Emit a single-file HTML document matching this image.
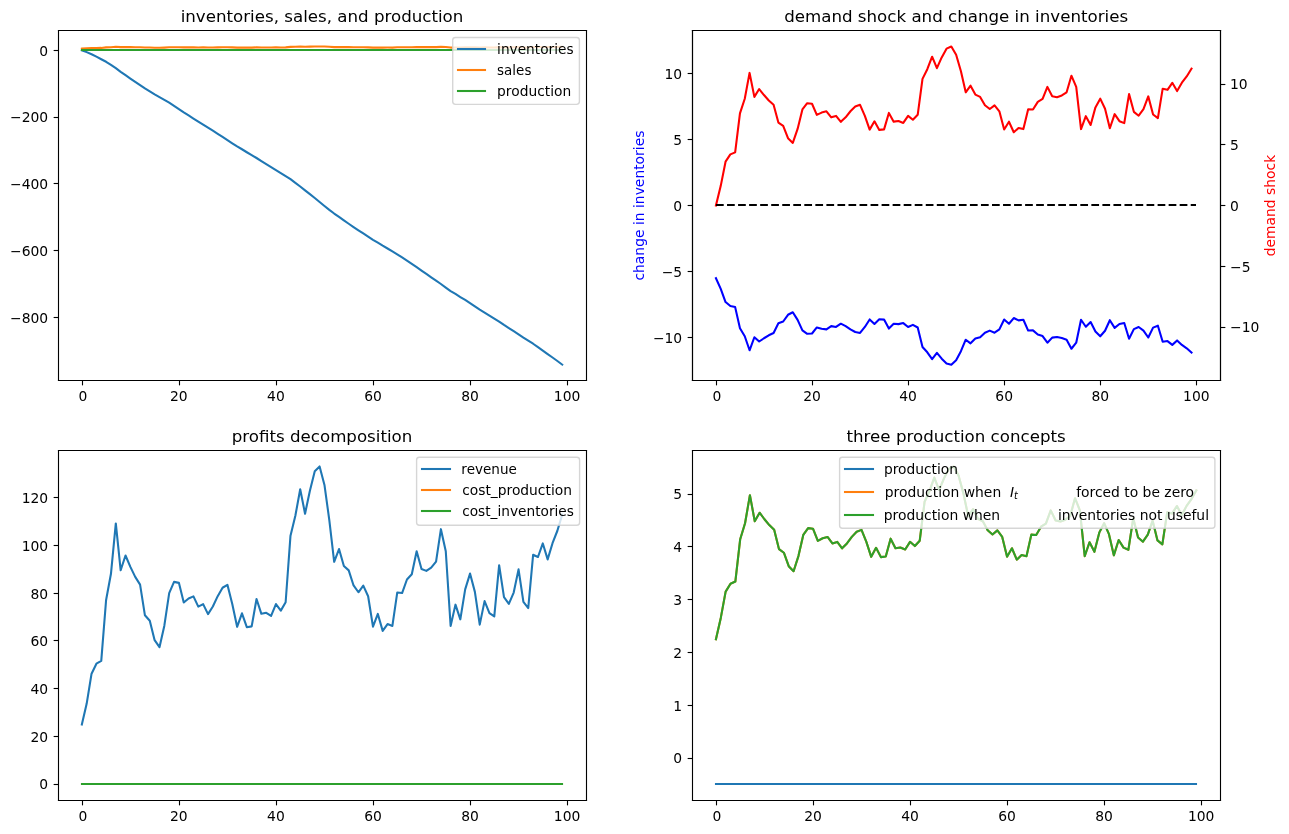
<!DOCTYPE html>
<html lang="en">
<head>
<meta charset="utf-8">
<title>Inventories, sales, and production</title>
<style>
html,body{margin:0;padding:0;background:#fff;}
body{width:1289px;height:834px;overflow:hidden;}
svg{display:block;font-family:"DejaVu Sans","Liberation Sans",sans-serif;}
</style>
</head>
<body>
<svg width="1289" height="834" viewBox="0 0 1289 834">
<g stroke-linejoin="round" stroke-linecap="butt" fill="#000">
<path d="M58 380L586 380L586 30L58 30Z" fill="#ffffff"/>
<path d="M82.5 380.5L82.5 385.36" stroke="#000000" stroke-width="1.11" fill="none"/>
<text x="82.85" y="400.83" font-size="13.89" text-anchor="middle">0</text>
<path d="M179.5 380.5L179.5 385.36" stroke="#000000" stroke-width="1.11" fill="none"/>
<text x="178.89" y="400.83" font-size="13.89" text-anchor="middle">20</text>
<path d="M276.5 380.5L276.5 385.36" stroke="#000000" stroke-width="1.11" fill="none"/>
<text x="275.94" y="400.83" font-size="13.89" text-anchor="middle">40</text>
<path d="M373.5 380.5L373.5 385.36" stroke="#000000" stroke-width="1.11" fill="none"/>
<text x="372.98" y="400.83" font-size="13.89" text-anchor="middle">60</text>
<path d="M470.5 380.5L470.5 385.36" stroke="#000000" stroke-width="1.11" fill="none"/>
<text x="470.03" y="400.83" font-size="13.89" text-anchor="middle">80</text>
<path d="M567.5 380.5L567.5 385.36" stroke="#000000" stroke-width="1.11" fill="none"/>
<text x="567.07" y="400.83" font-size="13.89" text-anchor="middle">100</text>
<path d="M58.5 317.5L53.64 317.5" stroke="#000000" stroke-width="1.11" fill="none"/>
<text x="48.11" y="322.51" font-size="13.89" text-anchor="end">−800</text>
<path d="M58.5 250.5L53.64 250.5" stroke="#000000" stroke-width="1.11" fill="none"/>
<text x="48.11" y="255.78" font-size="13.89" text-anchor="end">−600</text>
<path d="M58.5 183.5L53.64 183.5" stroke="#000000" stroke-width="1.11" fill="none"/>
<text x="48.11" y="189.05" font-size="13.89" text-anchor="end">−400</text>
<path d="M58.5 117.5L53.64 117.5" stroke="#000000" stroke-width="1.11" fill="none"/>
<text x="48.11" y="122.32" font-size="13.89" text-anchor="end">−200</text>
<path d="M58.5 50.5L53.64 50.5" stroke="#000000" stroke-width="1.11" fill="none"/>
<text x="48.11" y="55.59" font-size="13.89" text-anchor="end">0</text>
<path d="M81.85 50.31L86.7 52.15L91.55 54.25L96.41 56.69L101.26 59.22L106.11 61.79L110.96 64.89L115.81 68.19L120.67 71.84L125.52 75.17L130.37 78.6L135.22 81.95L140.08 85.23L144.93 88.45L149.78 91.42L154.63 94.35L159.48 97.11L164.34 99.81L169.19 102.69L174.04 105.85L178.89 109.08L183.75 112.32L188.6 115.4L193.45 118.51L198.3 121.63L203.15 124.68L208.01 127.74L212.86 130.73L217.71 133.77L222.56 136.9L227.42 140.1L232.27 143.31L237.12 146.38L241.97 149.26L246.82 152.25L251.68 155.12L256.53 158L261.38 161.11L266.23 164.09L271.09 167.09L275.94 170.06L280.79 173.12L285.64 176.13L290.49 179.21L295.35 182.79L300.2 186.49L305.05 190.37L309.9 194.09L314.76 197.96L319.61 201.95L324.46 205.96L329.31 209.87L334.17 213.54L339.02 216.93L343.87 220.41L348.72 223.77L353.57 227.1L358.43 230.31L363.28 233.47L368.13 236.68L372.98 239.81L377.84 242.68L382.69 245.67L387.54 248.51L392.39 251.41L397.24 254.29L402.1 257.45L406.95 260.6L411.8 263.86L416.65 267.16L421.51 270.62L426.36 273.96L431.21 277.28L436.06 280.63L440.91 284.01L445.77 287.63L450.62 291.09L455.47 293.98L460.32 297.04L465.18 299.98L470.03 303.16L474.88 306.46L479.73 309.63L484.58 312.52L489.44 315.61L494.29 318.6L499.14 321.57L503.99 324.93L508.85 328.05L513.7 331.12L518.55 334.28L523.4 337.61L528.25 340.7L533.11 343.73L537.96 347.17L542.81 350.59L547.66 354.11L552.52 357.51L557.37 361.03L562.22 364.64" fill="none" stroke="#1f77b4" stroke-width="2.08" stroke-linecap="square"/>
<path d="M81.85 48.64L86.7 48.37L91.55 48.04L96.41 47.94L101.26 47.91L106.11 47.38L110.96 47.18L115.81 46.82L120.67 47.15L125.52 47.04L130.37 47.13L135.22 47.2L140.08 47.26L144.93 47.5L149.78 47.55L154.63 47.72L159.48 47.78L164.34 47.59L169.19 47.32L174.04 47.24L178.89 47.25L183.75 47.4L188.6 47.37L193.45 47.35L198.3 47.43L203.15 47.41L208.01 47.49L212.86 47.43L217.71 47.35L222.56 47.28L227.42 47.26L232.27 47.41L237.12 47.6L241.97 47.49L246.82 47.6L251.68 47.6L256.53 47.37L261.38 47.49L266.23 47.48L271.09 47.51L275.94 47.41L280.79 47.46L285.64 47.4L290.49 46.9L295.35 46.77L300.2 46.6L305.05 46.76L309.9 46.61L314.76 46.49L319.61 46.46L324.46 46.57L329.31 46.8L334.17 47.09L339.02 47L343.87 47.12L348.72 47.15L353.57 47.26L358.43 47.32L363.28 47.27L368.13 47.35L372.98 47.6L377.84 47.49L382.69 47.64L387.54 47.58L392.39 47.59L397.24 47.32L402.1 47.32L406.95 47.22L411.8 47.18L416.65 47.01L421.51 47.14L426.36 47.16L431.21 47.13L436.06 47.09L440.91 46.86L445.77 47.01L450.62 47.59L455.47 47.42L460.32 47.54L465.18 47.29L470.03 47.18L474.88 47.31L479.73 47.58L484.58 47.39L489.44 47.48L494.29 47.51L499.14 47.11L503.99 47.36L508.85 47.41L513.7 47.32L518.55 47.14L523.4 47.39L528.25 47.44L533.11 47.04L537.96 47.05L542.81 46.96L547.66 47.07L552.52 46.96L557.37 46.87L562.22 46.76" fill="none" stroke="#ff7f0e" stroke-width="2.08" stroke-linecap="square"/>
<path d="M82 50L562 50" fill="none" stroke="#2ca02c" stroke-width="2.08" stroke-linecap="square"/>
<path d="M58.5 380.5L58.5 30.5" fill="none" stroke="#000000" stroke-width="1.11" stroke-linecap="square" stroke-linejoin="miter"/>
<path d="M586.5 380.5L586.5 30.5" fill="none" stroke="#000000" stroke-width="1.11" stroke-linecap="square" stroke-linejoin="miter"/>
<path d="M58.5 380.5L586.5 380.5" fill="none" stroke="#000000" stroke-width="1.11" stroke-linecap="square" stroke-linejoin="miter"/>
<path d="M58.5 30.5L586.5 30.5" fill="none" stroke="#000000" stroke-width="1.11" stroke-linecap="square" stroke-linejoin="miter"/>
<text x="322.03" y="22.22" font-size="16.67" text-anchor="middle">inventories, sales, and production</text>
<rect x="452.7" y="37.5" width="126.7" height="66.9" rx="2.78" fill="#ffffff" fill-opacity="0.8" stroke="#cccccc" stroke-opacity="0.8" stroke-width="1.39"/>
<path d="M458 49L485 49" fill="none" stroke="#1f77b4" stroke-width="2.08" stroke-linecap="square"/>
<text x="497.12" y="53.86" font-size="13.89" textLength="76.42" lengthAdjust="spacingAndGlyphs">inventories</text>
<path d="M458 70L485 70" fill="none" stroke="#ff7f0e" stroke-width="2.08" stroke-linecap="square"/>
<text x="497.12" y="74.61" font-size="13.89" textLength="34.29" lengthAdjust="spacingAndGlyphs">sales</text>
<path d="M458 91L485 91" fill="none" stroke="#2ca02c" stroke-width="2.08" stroke-linecap="square"/>
<text x="497.12" y="95.51" font-size="13.89" textLength="74.08" lengthAdjust="spacingAndGlyphs">production</text>
<path d="M692 380L1220 380L1220 30L692 30Z" fill="#ffffff"/>
<path d="M716.5 380.5L716.5 385.36" stroke="#000000" stroke-width="1.11" fill="none"/>
<text x="716.94" y="400.83" font-size="13.89" text-anchor="middle">0</text>
<path d="M812.5 380.5L812.5 385.36" stroke="#000000" stroke-width="1.11" fill="none"/>
<text x="812.01" y="400.83" font-size="13.89" text-anchor="middle">20</text>
<path d="M908.5 380.5L908.5 385.36" stroke="#000000" stroke-width="1.11" fill="none"/>
<text x="908.09" y="400.83" font-size="13.89" text-anchor="middle">40</text>
<path d="M1004.5 380.5L1004.5 385.36" stroke="#000000" stroke-width="1.11" fill="none"/>
<text x="1004.16" y="400.83" font-size="13.89" text-anchor="middle">60</text>
<path d="M1100.5 380.5L1100.5 385.36" stroke="#000000" stroke-width="1.11" fill="none"/>
<text x="1100.24" y="400.83" font-size="13.89" text-anchor="middle">80</text>
<path d="M1196.5 380.5L1196.5 385.36" stroke="#000000" stroke-width="1.11" fill="none"/>
<text x="1196.31" y="400.83" font-size="13.89" text-anchor="middle">100</text>
<path d="M692.5 337.5L687.64 337.5" stroke="#000000" stroke-width="1.11" fill="none"/>
<text x="682.2" y="342.94" font-size="13.89" text-anchor="end">−10</text>
<path d="M692.5 271.5L687.64 271.5" stroke="#000000" stroke-width="1.11" fill="none"/>
<text x="682.2" y="276.89" font-size="13.89" text-anchor="end">−5</text>
<path d="M692.5 205.5L687.64 205.5" stroke="#000000" stroke-width="1.11" fill="none"/>
<text x="682.2" y="210.83" font-size="13.89" text-anchor="end">0</text>
<path d="M692.5 139.5L687.64 139.5" stroke="#000000" stroke-width="1.11" fill="none"/>
<text x="682.2" y="144.77" font-size="13.89" text-anchor="end">5</text>
<path d="M692.5 73.5L687.64 73.5" stroke="#000000" stroke-width="1.11" fill="none"/>
<text x="682.2" y="78.71" font-size="13.89" text-anchor="end">10</text>
<text x="644.44" y="205.55" font-size="13.89" text-anchor="middle" fill="#0000ff" transform="rotate(-90 644.44 205.55)">change in inventories</text>
<path d="M715.94 278.21L720.74 288.91L725.55 302.05L730.35 306.03L735.15 307.11L739.96 328.25L744.76 336.23L749.57 350.28L754.37 337.25L759.17 341.51L763.98 338.24L768.78 335.31L773.58 333L778.39 323.3L783.19 321.51L788 314.79L792.8 312.26L797.6 319.83L802.41 330.41L807.21 333.82L812.01 333.52L816.82 327.46L821.62 328.73L826.43 329.38L831.23 326.13L836.03 326.92L840.84 323.69L845.64 326.16L850.44 329.44L855.25 332.03L860.05 332.94L864.85 326.96L869.66 319.45L874.46 323.96L879.27 319.32L884.07 319.59L888.87 328.54L893.68 323.79L898.48 324.12L903.28 323.1L908.09 326.96L912.89 324.84L917.7 327.53L922.5 347.01L927.3 352.3L932.11 359.07L936.91 352.85L941.71 358.68L946.52 363.46L951.32 364.64L956.13 360.14L960.93 351.18L965.73 339.71L970.54 343.33L975.34 338.5L980.14 337.23L984.95 332.73L989.75 330.65L994.56 332.67L999.36 329.41L1004.16 319.52L1008.97 323.76L1013.77 318.05L1018.57 320.37L1023.38 319.76L1028.18 330.56L1032.98 330.41L1037.79 334.54L1042.59 336.11L1047.4 342.69L1052.2 337.6L1057 337.08L1061.81 338.04L1066.61 339.74L1071.41 348.76L1076.22 342.72L1081.02 319.76L1085.83 326.77L1090.63 321.98L1095.43 331.54L1100.24 336.29L1105.04 330.78L1109.84 320.2L1114.65 327.88L1119.45 324.05L1124.26 322.97L1129.06 338.74L1133.86 329.13L1138.67 327.02L1143.47 330.56L1148.27 337.52L1153.08 327.65L1157.88 325.68L1162.69 341.7L1167.49 341.08L1172.29 344.88L1177.1 340.4L1181.9 344.94L1186.7 348.33L1191.51 352.61" fill="none" stroke="#0000ff" stroke-width="2.08" stroke-linecap="square"/>
<path d="M692.5 380.5L692.5 30.5" fill="none" stroke="#000000" stroke-width="1.11" stroke-linecap="square" stroke-linejoin="miter"/>
<path d="M1220.5 380.5L1220.5 30.5" fill="none" stroke="#000000" stroke-width="1.11" stroke-linecap="square" stroke-linejoin="miter"/>
<path d="M692.5 380.5L1220.5 380.5" fill="none" stroke="#000000" stroke-width="1.11" stroke-linecap="square" stroke-linejoin="miter"/>
<path d="M692.5 30.5L1220.5 30.5" fill="none" stroke="#000000" stroke-width="1.11" stroke-linecap="square" stroke-linejoin="miter"/>
<text x="956.13" y="22.22" font-size="16.67" text-anchor="middle">demand shock and change in inventories</text>
<path d="M58 800L586 800L586 450L58 450Z" fill="#ffffff"/>
<path d="M82.5 800.5L82.5 805.36" stroke="#000000" stroke-width="1.11" fill="none"/>
<text x="82.85" y="820.83" font-size="13.89" text-anchor="middle">0</text>
<path d="M179.5 800.5L179.5 805.36" stroke="#000000" stroke-width="1.11" fill="none"/>
<text x="178.89" y="820.83" font-size="13.89" text-anchor="middle">20</text>
<path d="M276.5 800.5L276.5 805.36" stroke="#000000" stroke-width="1.11" fill="none"/>
<text x="275.94" y="820.83" font-size="13.89" text-anchor="middle">40</text>
<path d="M373.5 800.5L373.5 805.36" stroke="#000000" stroke-width="1.11" fill="none"/>
<text x="372.98" y="820.83" font-size="13.89" text-anchor="middle">60</text>
<path d="M470.5 800.5L470.5 805.36" stroke="#000000" stroke-width="1.11" fill="none"/>
<text x="470.03" y="820.83" font-size="13.89" text-anchor="middle">80</text>
<path d="M567.5 800.5L567.5 805.36" stroke="#000000" stroke-width="1.11" fill="none"/>
<text x="567.07" y="820.83" font-size="13.89" text-anchor="middle">100</text>
<path d="M58.5 784.5L53.64 784.5" stroke="#000000" stroke-width="1.11" fill="none"/>
<text x="48.11" y="789.32" font-size="13.89" text-anchor="end">0</text>
<path d="M58.5 736.5L53.64 736.5" stroke="#000000" stroke-width="1.11" fill="none"/>
<text x="48.11" y="741.64" font-size="13.89" text-anchor="end">20</text>
<path d="M58.5 688.5L53.64 688.5" stroke="#000000" stroke-width="1.11" fill="none"/>
<text x="48.11" y="693.96" font-size="13.89" text-anchor="end">40</text>
<path d="M58.5 640.5L53.64 640.5" stroke="#000000" stroke-width="1.11" fill="none"/>
<text x="48.11" y="646.27" font-size="13.89" text-anchor="end">60</text>
<path d="M58.5 593.5L53.64 593.5" stroke="#000000" stroke-width="1.11" fill="none"/>
<text x="48.11" y="598.59" font-size="13.89" text-anchor="end">80</text>
<path d="M58.5 545.5L53.64 545.5" stroke="#000000" stroke-width="1.11" fill="none"/>
<text x="48.11" y="550.91" font-size="13.89" text-anchor="end">100</text>
<path d="M58.5 497.5L53.64 497.5" stroke="#000000" stroke-width="1.11" fill="none"/>
<text x="48.11" y="503.22" font-size="13.89" text-anchor="end">120</text>
<path d="M81.85 724.44L86.7 703.58L91.55 673.67L96.41 663.69L101.26 660.89L106.11 599.94L110.96 573.79L115.81 523.47L120.67 570.29L125.52 555.51L130.37 566.9L135.22 576.88L140.08 584.57L144.93 615.32L149.78 620.71L154.63 640.18L159.48 647.17L164.34 625.7L169.19 593.05L174.04 581.87L178.89 582.87L183.75 602.44L188.6 598.45L193.45 596.35L198.3 606.63L203.15 604.14L208.01 614.12L212.86 606.53L217.71 596.15L222.56 587.76L227.42 584.77L232.27 604.04L237.12 626.8L241.97 613.32L246.82 627.2L251.68 626.4L256.53 599.04L261.38 613.82L266.23 612.82L271.09 615.92L275.94 604.04L280.79 610.63L285.64 602.24L290.49 535.65L295.35 515.78L300.2 489.22L305.05 513.68L309.9 490.82L314.76 471.35L319.61 466.46L324.46 484.93L329.31 520.07L334.17 561.8L339.02 549.03L343.87 566L348.72 570.39L353.57 585.47L358.43 592.26L363.28 585.67L368.13 596.25L372.98 626.6L377.84 613.92L382.69 630.89L387.54 624.1L392.39 625.9L397.24 592.55L402.1 593.05L406.95 579.48L411.8 574.18L416.65 551.32L421.51 569.09L426.36 570.89L431.21 567.6L436.06 561.7L440.91 529.16L445.77 551.22L450.62 625.9L455.47 604.64L460.32 619.31L465.18 589.36L470.03 573.59L474.88 591.86L479.73 624.6L484.58 601.14L489.44 613.02L494.29 616.32L499.14 565.2L503.99 597.15L508.85 603.84L513.7 592.55L518.55 569.39L523.4 601.84L528.25 608.03L533.11 554.82L537.96 557.01L542.81 543.43L547.66 559.41L552.52 543.23L557.37 530.75L562.22 514.58" fill="none" stroke="#1f77b4" stroke-width="2.08" stroke-linecap="square"/>
<path d="M82 784L562 784" fill="none" stroke="#ff7f0e" stroke-width="2.08" stroke-linecap="square"/>
<path d="M82 784L562 784" fill="none" stroke="#2ca02c" stroke-width="2.08" stroke-linecap="square"/>
<path d="M58.5 800.5L58.5 450.5" fill="none" stroke="#000000" stroke-width="1.11" stroke-linecap="square" stroke-linejoin="miter"/>
<path d="M586.5 800.5L586.5 450.5" fill="none" stroke="#000000" stroke-width="1.11" stroke-linecap="square" stroke-linejoin="miter"/>
<path d="M58.5 800.5L586.5 800.5" fill="none" stroke="#000000" stroke-width="1.11" stroke-linecap="square" stroke-linejoin="miter"/>
<path d="M58.5 450.5L586.5 450.5" fill="none" stroke="#000000" stroke-width="1.11" stroke-linecap="square" stroke-linejoin="miter"/>
<text x="322.03" y="442.22" font-size="16.67" text-anchor="middle">profits decomposition</text>
<rect x="416.6" y="457.3" width="163" height="68" rx="2.78" fill="#ffffff" fill-opacity="0.8" stroke="#cccccc" stroke-opacity="0.8" stroke-width="1.39"/>
<path d="M422 469L450 469" fill="none" stroke="#1f77b4" stroke-width="2.08" stroke-linecap="square"/>
<text x="461.36" y="474.11" font-size="13.89" textLength="55.47" lengthAdjust="spacingAndGlyphs">revenue</text>
<path d="M422 490L450 490" fill="none" stroke="#ff7f0e" stroke-width="2.08" stroke-linecap="square"/>
<text x="462.16" y="495.01" font-size="13.89" textLength="109.79" lengthAdjust="spacingAndGlyphs">cost_production</text>
<path d="M422 511L450 511" fill="none" stroke="#2ca02c" stroke-width="2.08" stroke-linecap="square"/>
<text x="462.16" y="516.01" font-size="13.89" textLength="111.78" lengthAdjust="spacingAndGlyphs">cost_inventories</text>
<path d="M692 800L1220 800L1220 450L692 450Z" fill="#ffffff"/>
<path d="M716.5 800.5L716.5 805.36" stroke="#000000" stroke-width="1.11" fill="none"/>
<text x="716.94" y="820.83" font-size="13.89" text-anchor="middle">0</text>
<path d="M813.5 800.5L813.5 805.36" stroke="#000000" stroke-width="1.11" fill="none"/>
<text x="812.98" y="820.83" font-size="13.89" text-anchor="middle">20</text>
<path d="M910.5 800.5L910.5 805.36" stroke="#000000" stroke-width="1.11" fill="none"/>
<text x="910.03" y="820.83" font-size="13.89" text-anchor="middle">40</text>
<path d="M1007.5 800.5L1007.5 805.36" stroke="#000000" stroke-width="1.11" fill="none"/>
<text x="1007.07" y="820.83" font-size="13.89" text-anchor="middle">60</text>
<path d="M1104.5 800.5L1104.5 805.36" stroke="#000000" stroke-width="1.11" fill="none"/>
<text x="1104.12" y="820.83" font-size="13.89" text-anchor="middle">80</text>
<path d="M1201.5 800.5L1201.5 805.36" stroke="#000000" stroke-width="1.11" fill="none"/>
<text x="1201.16" y="820.83" font-size="13.89" text-anchor="middle">100</text>
<path d="M692.5 758.5L687.64 758.5" stroke="#000000" stroke-width="1.11" fill="none"/>
<text x="682.2" y="763.49" font-size="13.89" text-anchor="end">0</text>
<path d="M692.5 705.5L687.64 705.5" stroke="#000000" stroke-width="1.11" fill="none"/>
<text x="682.2" y="710.65" font-size="13.89" text-anchor="end">1</text>
<path d="M692.5 652.5L687.64 652.5" stroke="#000000" stroke-width="1.11" fill="none"/>
<text x="682.2" y="657.8" font-size="13.89" text-anchor="end">2</text>
<path d="M692.5 599.5L687.64 599.5" stroke="#000000" stroke-width="1.11" fill="none"/>
<text x="682.2" y="604.95" font-size="13.89" text-anchor="end">3</text>
<path d="M692.5 546.5L687.64 546.5" stroke="#000000" stroke-width="1.11" fill="none"/>
<text x="682.2" y="552.1" font-size="13.89" text-anchor="end">4</text>
<path d="M692.5 494.5L687.64 494.5" stroke="#000000" stroke-width="1.11" fill="none"/>
<text x="682.2" y="499.26" font-size="13.89" text-anchor="end">5</text>
<path d="M716 784L1196 784" fill="none" stroke="#1f77b4" stroke-width="2.08" stroke-linecap="square"/>
<path d="M715.94 639.31L720.79 617.92L725.64 591.64L730.5 583.69L735.35 581.52L740.2 539.23L745.05 523.28L749.91 495.18L754.76 521.23L759.61 512.73L764.46 519.25L769.31 525.12L774.17 529.73L779.02 549.14L783.87 552.72L788.72 566.17L793.58 571.22L798.43 556.09L803.28 534.93L808.13 528.1L812.98 528.71L817.84 540.81L822.69 538.29L827.54 536.98L832.39 543.49L837.25 541.89L842.1 548.35L846.95 543.43L851.8 536.85L856.65 531.67L861.51 529.85L866.36 541.83L871.21 556.84L876.06 547.83L880.92 557.11L885.77 556.56L890.62 538.67L895.47 548.16L900.32 547.5L905.18 549.53L910.03 541.83L914.88 546.07L919.73 540.69L924.59 501.72L929.44 491.14L934.29 477.59L939.14 490.04L943.99 478.39L948.85 468.82L953.7 466.46L958.55 475.46L963.4 493.39L968.26 516.31L973.11 509.08L977.96 518.73L982.81 521.29L987.67 530.28L992.52 534.43L997.37 530.4L1002.22 536.91L1007.07 556.7L1011.93 548.22L1016.78 559.65L1021.63 555L1026.48 556.22L1031.34 534.62L1036.19 534.93L1041.04 526.67L1045.89 523.52L1050.74 510.37L1055.6 520.53L1060.45 521.58L1065.3 519.66L1070.15 516.26L1075.01 498.22L1079.86 510.31L1084.71 556.22L1089.56 542.21L1094.41 551.79L1099.27 532.65L1104.12 523.17L1108.97 534.19L1113.82 555.34L1118.68 539.99L1123.53 547.63L1128.38 549.8L1133.23 518.27L1138.08 537.48L1142.94 541.7L1147.79 534.62L1152.64 520.71L1157.49 540.43L1162.35 544.39L1167.2 512.33L1172.05 513.58L1176.9 505.98L1181.75 514.94L1186.61 505.87L1191.46 499.07L1196.31 490.51" fill="none" stroke="#ff7f0e" stroke-width="2.08" stroke-linecap="square"/>
<path d="M715.94 639.31L720.79 617.92L725.64 591.64L730.5 583.69L735.35 581.52L740.2 539.23L745.05 523.28L749.91 495.18L754.76 521.23L759.61 512.73L764.46 519.25L769.31 525.12L774.17 529.73L779.02 549.14L783.87 552.72L788.72 566.17L793.58 571.22L798.43 556.09L803.28 534.93L808.13 528.1L812.98 528.71L817.84 540.81L822.69 538.29L827.54 536.98L832.39 543.49L837.25 541.89L842.1 548.35L846.95 543.43L851.8 536.85L856.65 531.67L861.51 529.85L866.36 541.83L871.21 556.84L876.06 547.83L880.92 557.11L885.77 556.56L890.62 538.67L895.47 548.16L900.32 547.5L905.18 549.53L910.03 541.83L914.88 546.07L919.73 540.69L924.59 501.72L929.44 491.14L934.29 477.59L939.14 490.04L943.99 478.39L948.85 468.82L953.7 466.46L958.55 475.46L963.4 493.39L968.26 516.31L973.11 509.08L977.96 518.73L982.81 521.29L987.67 530.28L992.52 534.43L997.37 530.4L1002.22 536.91L1007.07 556.7L1011.93 548.22L1016.78 559.65L1021.63 555L1026.48 556.22L1031.34 534.62L1036.19 534.93L1041.04 526.67L1045.89 523.52L1050.74 510.37L1055.6 520.53L1060.45 521.58L1065.3 519.66L1070.15 516.26L1075.01 498.22L1079.86 510.31L1084.71 556.22L1089.56 542.21L1094.41 551.79L1099.27 532.65L1104.12 523.17L1108.97 534.19L1113.82 555.34L1118.68 539.99L1123.53 547.63L1128.38 549.8L1133.23 518.27L1138.08 537.48L1142.94 541.7L1147.79 534.62L1152.64 520.71L1157.49 540.43L1162.35 544.39L1167.2 512.33L1172.05 513.58L1176.9 505.98L1181.75 514.94L1186.61 505.87L1191.46 499.07L1196.31 490.51" fill="none" stroke="#2ca02c" stroke-width="2.08" stroke-linecap="square"/>
<path d="M692.5 800.5L692.5 450.5" fill="none" stroke="#000000" stroke-width="1.11" stroke-linecap="square" stroke-linejoin="miter"/>
<path d="M1220.5 800.5L1220.5 450.5" fill="none" stroke="#000000" stroke-width="1.11" stroke-linecap="square" stroke-linejoin="miter"/>
<path d="M692.5 800.5L1220.5 800.5" fill="none" stroke="#000000" stroke-width="1.11" stroke-linecap="square" stroke-linejoin="miter"/>
<path d="M692.5 450.5L1220.5 450.5" fill="none" stroke="#000000" stroke-width="1.11" stroke-linecap="square" stroke-linejoin="miter"/>
<text x="956.13" y="442.22" font-size="16.67" text-anchor="middle">three production concepts</text>
<rect x="839.6" y="457.2" width="375.3" height="71" rx="2.78" fill="#ffffff" fill-opacity="0.8" stroke="#cccccc" stroke-opacity="0.8" stroke-width="1.39"/>
<path d="M845 469L873 469" fill="none" stroke="#1f77b4" stroke-width="2.08" stroke-linecap="square"/>
<text x="883.92" y="474.11" font-size="13.89" textLength="74.08" lengthAdjust="spacingAndGlyphs">production</text>
<path d="M845 492L873 492" fill="none" stroke="#ff7f0e" stroke-width="2.08" stroke-linecap="square"/>
<text x="884.82" y="497" font-size="13.89">production when</text>
<text x="1076.14" y="497" font-size="13.89">forced to be zero</text>
<text x="1009.96" y="497" font-size="13.89" font-style="oblique">I<tspan x="1014.06" y="499.28" font-size="9.72">t</tspan></text>
<path d="M845 515L873 515" fill="none" stroke="#2ca02c" stroke-width="2.08" stroke-linecap="square"/>
<text x="883.72" y="520.01" font-size="13.89">production when</text>
<text x="1057.92" y="520.01" font-size="13.89">inventories not useful</text>
<path d="M1220.5 327.5L1225.36 327.5" stroke="#000000" stroke-width="1.11" fill="none"/>
<text x="1230.05" y="332.43" font-size="13.89">−10</text>
<path d="M1220.5 266.5L1225.36 266.5" stroke="#000000" stroke-width="1.11" fill="none"/>
<text x="1230.05" y="271.63" font-size="13.89">−5</text>
<path d="M1220.5 205.5L1225.36 205.5" stroke="#000000" stroke-width="1.11" fill="none"/>
<text x="1230.05" y="210.83" font-size="13.89">0</text>
<path d="M1220.5 144.5L1225.36 144.5" stroke="#000000" stroke-width="1.11" fill="none"/>
<text x="1230.05" y="150.03" font-size="13.89">5</text>
<path d="M1220.5 84.5L1225.36 84.5" stroke="#000000" stroke-width="1.11" fill="none"/>
<text x="1230.05" y="89.23" font-size="13.89">10</text>
<text x="1275.47" y="205.55" font-size="13.89" text-anchor="middle" fill="#ff0000" transform="rotate(-90 1275.47 205.55)">demand shock</text>
<path d="M715.94 205.55L720.74 185.86L725.55 161.68L730.35 154.36L735.15 152.36L739.96 113.44L744.76 98.76L749.57 72.9L754.37 96.87L759.17 89.04L763.98 95.05L768.78 100.45L773.58 104.69L778.39 122.56L783.19 125.85L788 138.23L792.8 142.88L797.6 128.95L802.41 109.48L807.21 103.2L812.01 103.75L816.82 114.89L821.62 112.57L826.43 111.36L831.23 117.36L836.03 115.89L840.84 121.83L845.64 117.3L850.44 111.25L855.25 106.48L860.05 104.81L864.85 115.83L869.66 129.64L874.46 121.35L879.27 129.89L884.07 129.39L888.87 112.92L893.68 121.65L898.48 121.05L903.28 122.92L908.09 115.83L912.89 119.73L917.7 114.78L922.5 78.91L927.3 69.17L932.11 56.71L936.91 68.17L941.71 57.44L946.52 48.63L951.32 46.46L956.13 54.74L960.93 71.25L965.73 92.34L970.54 85.69L975.34 94.57L980.14 96.92L984.95 105.2L989.75 109.02L994.56 105.31L999.36 111.31L1004.16 129.52L1008.97 121.71L1013.77 132.23L1018.57 127.96L1023.38 129.08L1028.18 109.19L1032.98 109.48L1037.79 101.87L1042.59 98.98L1047.4 86.87L1052.2 96.23L1057 97.19L1061.81 95.42L1066.61 92.29L1071.41 75.69L1076.22 86.82L1081.02 129.08L1085.83 116.18L1090.63 124.99L1095.43 107.38L1100.24 98.65L1105.04 108.8L1109.84 128.27L1114.65 114.14L1119.45 121.17L1124.26 123.16L1129.06 94.14L1133.86 111.82L1138.67 115.71L1143.47 109.19L1148.27 96.39L1153.08 114.54L1157.88 118.19L1162.69 88.68L1167.49 89.83L1172.29 82.83L1177.1 91.08L1181.9 82.73L1186.7 76.48L1191.51 68.6" fill="none" stroke="#ff0000" stroke-width="2.08" stroke-linecap="square"/>
<path d="M716 205L1196 205" fill="none" stroke="#000000" stroke-width="2.08" stroke-dasharray="7.71 3.33" stroke-dashoffset="0"/>
<path d="M692.5 380.5L692.5 30.5" fill="none" stroke="#000000" stroke-width="1.11" stroke-linecap="square" stroke-linejoin="miter"/>
<path d="M1220.5 380.5L1220.5 30.5" fill="none" stroke="#000000" stroke-width="1.11" stroke-linecap="square" stroke-linejoin="miter"/>
<path d="M692.5 380.5L1220.5 380.5" fill="none" stroke="#000000" stroke-width="1.11" stroke-linecap="square" stroke-linejoin="miter"/>
<path d="M692.5 30.5L1220.5 30.5" fill="none" stroke="#000000" stroke-width="1.11" stroke-linecap="square" stroke-linejoin="miter"/>
</g>
</svg>
</body>
</html>
